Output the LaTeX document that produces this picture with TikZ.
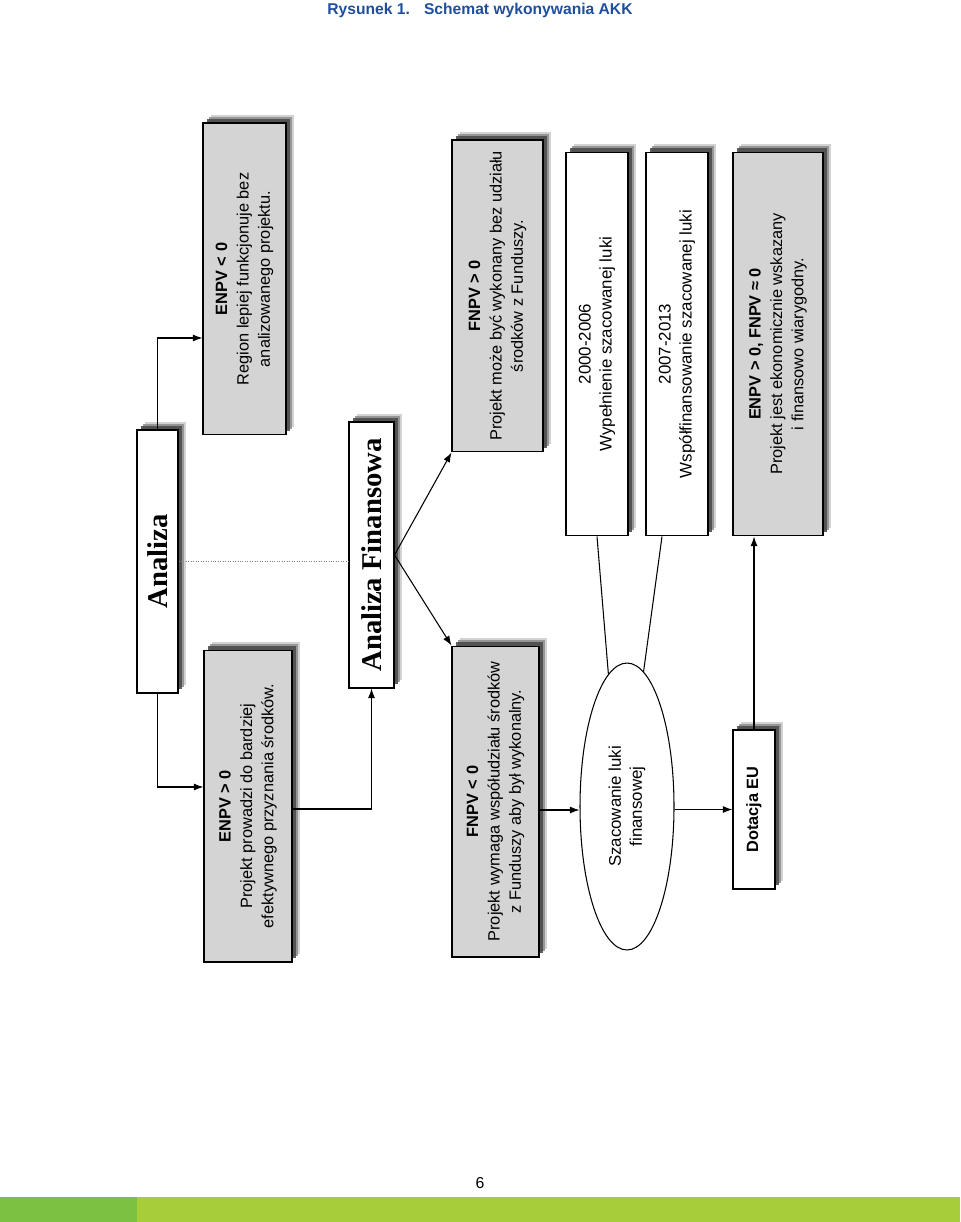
\documentclass[tikz,border=0pt]{standalone}
\usepackage{fontspec}
\setmainfont{Liberation Sans}
\newfontfamily\timesfont{Liberation Serif}
\usepackage{tikz}
\usetikzlibrary{arrows.meta, shapes.geometric, shadows}

\definecolor{tytul}{RGB}{31,78,156}
\definecolor{zielen1}{RGB}{125,193,66}
\definecolor{zielen2}{RGB}{167,206,57}

\tikzset{
  cien/.style={drop shadow={shadow xshift=4.6pt, shadow yshift=4.6pt, fill=black!22, opacity=.8},
               drop shadow={shadow xshift=3.4pt, shadow yshift=3.4pt, fill=black!45, opacity=.85},
               drop shadow={shadow xshift=2.2pt, shadow yshift=2.2pt, fill=black!70, opacity=.9}},
  ramka/.style={draw, line width=0.6pt, rotate=90, align=center, inner sep=0pt,
                font=\fontsize{9.3}{12.2}\selectfont},
  szara/.style={ramka, cien, fill=black!17},
  biala/.style={ramka, cien, fill=white},
  tytulowa/.style={biala, font=\timesfont\bfseries\fontsize{16.3}{18}\selectfont},
  strz/.style={line width=0.6pt, ->},
}

\begin{document}
\begin{tikzpicture}[x=0.02cm, y=-0.02cm, >={Latex[length=5.5pt,width=4pt]}]
  \useasboundingbox (0,0) rectangle (960,1222);

  % naglowek i stopka
  \node[font=\bfseries\fontsize{8.9}{11}\selectfont, text=tytul] (tyt) at (480,10)
    {Rysunek 1.\hspace{0.9em}Schemat wykonywania AKK};
  \node[font=\fontsize{9}{11}\selectfont] (nr) at (480,1183) {6};
  \fill[zielen1] (0,1197) rectangle (137,1222);
  \fill[zielen2] (137,1197) rectangle (960,1222);

  % analiza ekonomiczna
  \node[tytulowa, minimum width=5.26cm, minimum height=0.82cm] (ana) at (157.5,561.5) {Analiza};
  \node[szara, minimum width=6.24cm, minimum height=1.66cm] (eneg) at (244.5,279)
    {\textbf{ENPV < 0}\\Region lepiej funkcjonuje bez\\analizowanego projektu.};
  \node[szara, minimum width=6.24cm, minimum height=1.76cm] (epos) at (248,806)
    {\textbf{ENPV > 0}\\Projekt prowadzi do bardziej\\efektywnego przyznania środków.};

  % analiza finansowa
  \node[tytulowa, minimum width=5.32cm, minimum height=0.9cm] (af) at (371.5,555) {Analiza Finansowa};
  \node[szara, minimum width=6.24cm, minimum height=1.82cm] (fpos) at (497.5,296)
    {\textbf{FNPV > 0}\\Projekt może być wykonany bez udziału\\środków z Funduszy.};
  \node[szara, minimum width=6.22cm, minimum height=1.74cm] (fneg) at (495.5,801.5)
    {\textbf{FNPV < 0}\\Projekt wymaga współudziału środków\\z Funduszy aby był wykonalny.};

  % luka finansowa
  \node[draw, ellipse, line width=0.6pt, rotate=90, minimum width=5.74cm, minimum height=1.88cm,
        inner sep=0pt, align=center, font=\fontsize{9.6}{12}\selectfont] (ell) at (627,806.5)
    {Szacowanie luki\\finansowej};
  \node[biala, font=\fontsize{9.6}{12}\selectfont, minimum width=7.68cm, minimum height=1.24cm] (p2000) at (597,344)
    {2000-2006\\Wypełnienie szacowanej luki};
  \node[biala, font=\fontsize{9.6}{12}\selectfont, minimum width=7.68cm, minimum height=1.24cm] (p2007) at (677,344)
    {2007-2013\\Współfinansowanie szacowanej luki};
  \node[szara, minimum width=7.68cm, minimum height=1.8cm] (fin) at (778,344)
    {\textbf{ENPV > 0, FNPV ≈ 0}\\Projekt jest ekonomicznie wskazany\\i finansowo wiarygodny.};
  \node[biala, minimum width=3.18cm, minimum height=0.84cm] (dot) at (754,809.5)
    {\textbf{Dotacja EU}};

  % polaczenia
  \draw[strz] (ana.east) |- (eneg.north |- 0,338);
  \draw[strz] (ana.west) |- (epos.north |- 0,787);
  \draw[gray, densely dotted] (ana.south) -- (af.north |- ana.south);
  \draw[strz] (epos.south |- 0,809) -| (af.west);
  \draw[strz] (af.south) -- (fpos.north west);
  \draw[strz] (af.south) -- (fneg.north east);
  \draw[strz] (fneg.south |- 0,810) -- (ell.north |- 0,810);
  \draw[line width=0.6pt] (ell.8) -- (p2000.west);
  \draw[line width=0.6pt] (ell.-7) -- (p2007.west -| 662,0);
  \draw[strz] (ell.south |- dot.north) -- (dot.north);
  \draw[strz] (dot.east) -- (fin.west -| dot.east);
\end{tikzpicture}
\end{document}
